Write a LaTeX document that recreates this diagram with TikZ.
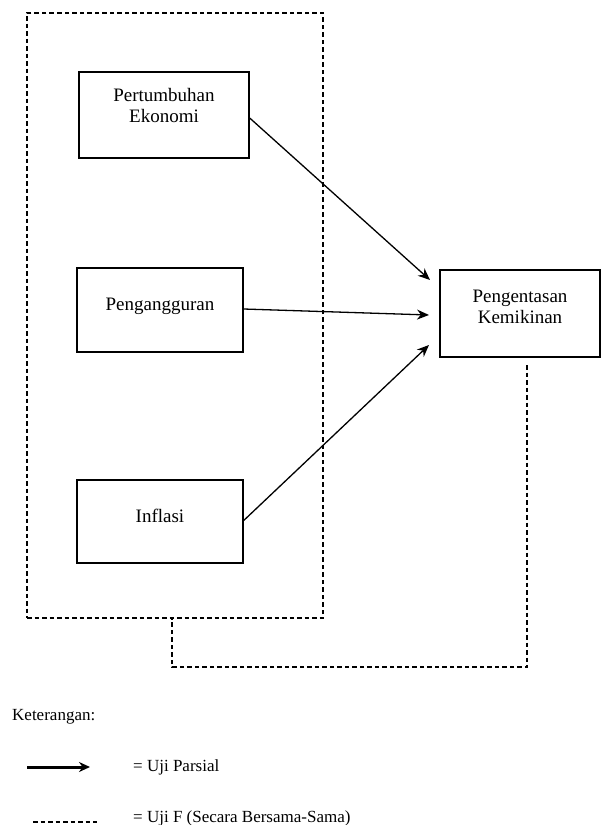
\documentclass[tikz,border=0pt]{standalone}
\usepackage{fontspec}
\setmainfont{Liberation Serif}
\usetikzlibrary{arrows.meta}
\begin{document}
\begin{tikzpicture}[x=1pt,y=-1pt,
  box/.style={draw,line width=1.4pt,minimum width=#1,minimum height=85pt,inner sep=0pt},
  lbl/.style={font=\fontsize{19}{21}\selectfont,align=center,inner sep=0pt},
  leg/.style={font=\fontsize{17}{20}\selectfont,inner sep=0pt,anchor=west},
  arr/.style={line width=1.3pt,-{Stealth[length=12pt,width=10pt]}},
  dsh/.style={line width=1.3pt,dash pattern=on 4.5pt off 3pt}]
\useasboundingbox (0,0) rectangle (602,825);
% outer dashed frame
\node[draw,dsh,minimum width=296pt,minimum height=605pt,inner sep=0pt] (frame) at (175,315.5) {};
% boxes
\node[box=170pt,minimum height=86pt] (pe) at (164,115) {};
\node[lbl] (tpe) at (164,105) {Pertumbuhan\\Ekonomi};
\node[box=166pt,minimum height=84pt] (pg) at (160,310) {};
\node[lbl] (tpg) at (160,306) {Pengangguran};
\node[box=166pt,minimum height=83pt] (in) at (160,521.5) {};
\node[lbl] (tin) at (160,516) {Inflasi};
\node[box=160pt,minimum height=87pt] (pk) at (520,313.5) {};
\node[lbl] (tpk) at (520,307) {Pengentasan\\Kemikinan};
% arrow end points
\coordinate (e1) at (430,280);
\coordinate (e2) at (429,315);
\coordinate (e3) at (429,345);
\draw[arr] ([yshift=-3pt]pe.east) -- (e1);
\draw[arr] ([yshift=1pt]pg.east) -- (e2);
\draw[arr] ([yshift=1pt]in.east) -- (e3);
% dashed F connector
\coordinate (d1) at (527,365);
\coordinate (d2) at (527,667);
\coordinate (d3) at (172,667);
\draw[dsh] (d1) -- (d2) -- (d3) -- (d3 |- frame.south);
% legend
\node[leg] (ket) at (12,717) {Keterangan:};
\coordinate (la1) at (27,767);
\coordinate (la2) at (90,767);
\draw[line width=3pt,-{Stealth[length=11pt,width=10pt]}] (la1) -- (la2);
\node[leg] (lp) at (133,767) {= Uji Parsial};
\coordinate (ld1) at (33,822);
\coordinate (ld2) at (97,822);
\draw[dsh] (ld1) -- (ld2);
\node[leg] (lf) at (133,818) {= Uji F (Secara Bersama-Sama)};
\end{tikzpicture}
\end{document}
